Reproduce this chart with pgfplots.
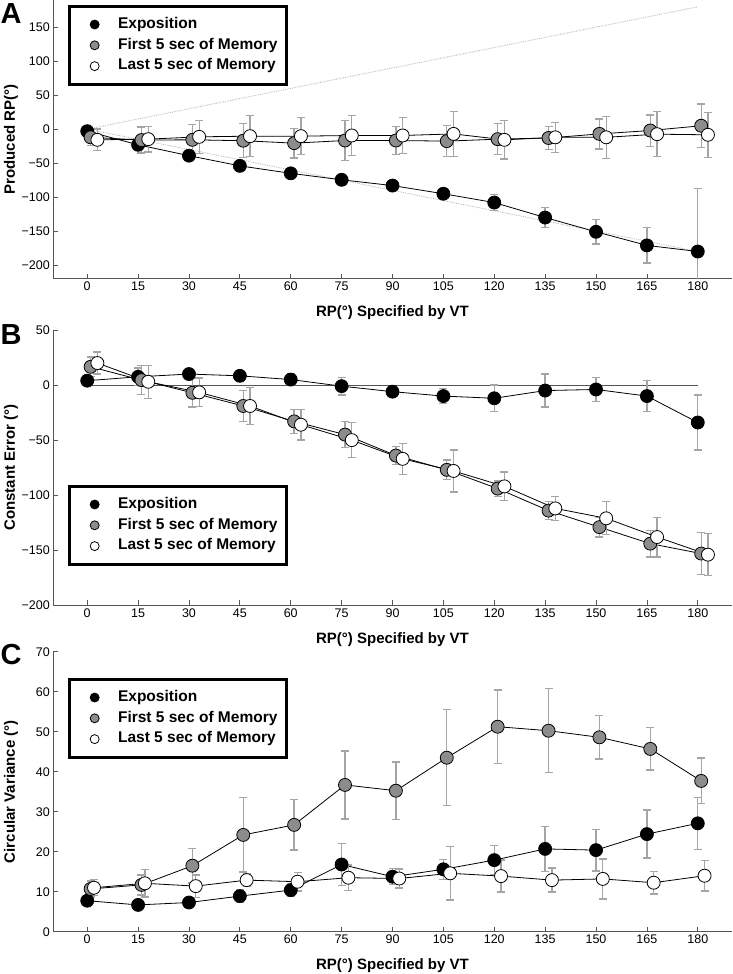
\documentclass[border=0pt]{standalone}
\usepackage{pgfplots}
\pgfplotsset{compat=1.18}
\usepackage{fontspec}
\setmainfont{Liberation Sans}

\definecolor{axgray}{RGB}{85,85,85}
\definecolor{ebgray}{RGB}{165,165,165}
\definecolor{mkgray}{RGB}{140,140,140}

\pgfplotsset{
  panel/.style={
    scale only axis, width=678.4pt,
    xmin=-10, xmax=190,
    axis x line*=bottom, axis y line*=left,
    axis line style={axgray, line width=1pt},
    tick align=inside, major tick length=5pt,
    tick style={axgray, line width=0.8pt},
    xtick={0,15,...,180},
    tick label style={font=\fontsize{12.5}{14}\selectfont},
    /pgf/number format/assume math mode=true,
    xlabel={RP(°) Specified by VT},
    label style={font=\bfseries\fontsize{15}{17}\selectfont},
    xlabel style={at={(axis description cs:0.5,0)}, yshift=-34pt, anchor=center},
    ylabel style={at={(axis description cs:-0.0624,0.5)}, anchor=center},
    legend cell align=left,
    legend style={draw=black, line width=2.5pt, fill=white, anchor=north west,
      font=\bfseries\fontsize{15.5}{18}\selectfont,
      inner xsep=6pt, inner ysep=9.5pt, row sep=3.3pt,
      nodes={inner xsep=3pt, inner ysep=1.5pt, text height=11pt, text depth=3.5pt}},
    legend image code/.code={%
      \path (-19pt,0pt) (20pt,0pt);
      \draw[##1, line width=0.8pt, mark size=4.5pt] plot coordinates {(0pt,0pt)};},
  },
  ser/.style={black, line width=0.8pt, mark=*, mark size=6.5pt,
    mark options={fill=#1, draw=black, line width=0.8pt},
    error bars/.cd, y dir=both, y explicit,
    error bar style={ebgray, line width=1.3pt},
    error mark options={rotate=90, ebgray, line width=1.3pt, mark size=4pt}},
}

\begin{document}
\begin{tikzpicture}
\useasboundingbox (0,0) rectangle (733pt,-974pt);

% Panel A
\begin{axis}[panel, at={(53.3pt,-278.7pt)}, anchor=south west,
  height=278.7pt, ymin=-220, ymax=190,
  ytick={-200,-150,...,150},
  yticklabels={−200,−150,−100,−50,0,50,100,150},
  ylabel={Produced RP(°)},
  legend style={at={(axis description cs:0.0217,0.982)}}]
\addplot[densely dotted, gray!60, line width=0.8pt, forget plot] coordinates {(0,0) (180,180)};
\addplot[densely dotted, gray!60, line width=0.8pt, forget plot] coordinates {(0,0) (180,-180)};
\addplot[ser=black] coordinates {
(0,-3) +- (0,3) (15,-23) +- (0,8) (30,-39) +- (0,5) (45,-54) +- (0,5)
(60,-65) +- (0,4) (75,-74.5) +- (0,8) (90,-83) +- (0,5) (105,-95) +- (0,8)
(120,-108) +- (0,12) (135,-130) +- (0,15) (150,-151) +- (0,18)
(165,-171) +- (0,26) (180,-180) +- (0,93)};
\addplot[ser=mkgray] coordinates {
(1,-12) +- (0,12) (16,-16) +- (0,19) (31,-15.7) +- (0,23) (46,-17) +- (0,25)
(61,-20.6) +- (0,22) (76,-16.7) +- (0,29) (91,-16.7) +- (0,21) (106,-17.6) +- (0,23)
(121,-14.7) +- (0,23) (136,-13) +- (0,17) (151,-7) +- (0,22)
(166,-2) +- (0,23) (181,5) +- (0,32)};
\addplot[ser=white] coordinates {
(3,-15.7) +- (0,16) (18,-14.7) +- (0,19) (33,-11.3) +- (0,24) (48,-10.3) +- (0,30)
(63,-10.3) +- (0,27) (78,-9.3) +- (0,29) (93,-9.3) +- (0,26) (108,-7) +- (0,33)
(123,-15.7) +- (0,28) (138,-12) +- (0,22) (153,-12) +- (0,31)
(168,-7.4) +- (0,33) (183,-8.3) +- (0,33)};
\legend{Exposition, First 5 sec of Memory, Last 5 sec of Memory}
\end{axis}

% Panel B
\begin{axis}[panel, at={(53.3pt,-605.3pt)}, anchor=south west,
  height=275.3pt, ymin=-200, ymax=50,
  ytick={-200,-150,...,50},
  yticklabels={−200,−150,−100,−50,0,50},
  ylabel={Constant Error (°)},
  legend style={at={(axis description cs:0.0217,0.437)}}]
\addplot[axgray, line width=1pt, forget plot] coordinates {(0,0) (180,0)};
\addplot[ser=black] coordinates {
(0,4) +- (0,2) (15,7.5) +- (0,8) (30,10) +- (0,4) (45,8.4) +- (0,5)
(60,5) +- (0,5) (75,-1) +- (0,8) (90,-6) +- (0,3) (105,-10) +- (0,7)
(120,-12) +- (0,12) (135,-5) +- (0,15) (150,-4) +- (0,11)
(165,-10) +- (0,14) (180,-34) +- (0,25)};
\addplot[ser=mkgray] coordinates {
(1,16.6) +- (0,9) (16,4.5) +- (0,13) (31,-7) +- (0,13) (46,-19) +- (0,14)
(61,-33) +- (0,11) (76,-45) +- (0,12) (91,-64) +- (0,8) (106,-77) +- (0,9)
(121,-94) +- (0,7) (136,-114) +- (0,8) (151,-129) +- (0,9)
(166,-144) +- (0,12) (181,-153) +- (0,19)};
\addplot[ser=white] coordinates {
(3,20) +- (0,10) (18,3) +- (0,15) (33,-6.6) +- (0,13) (48,-19) +- (0,17)
(63,-36) +- (0,14) (78,-50) +- (0,16) (93,-67) +- (0,14) (108,-78) +- (0,19)
(123,-92) +- (0,13) (138,-112) +- (0,11) (153,-121) +- (0,15)
(168,-138) +- (0,18) (183,-154) +- (0,19)};
\legend{Exposition, First 5 sec of Memory, Last 5 sec of Memory}
\end{axis}

% Panel C
\begin{axis}[panel, at={(53.3pt,-931.7pt)}, anchor=south west,
  height=280pt, ymin=0, ymax=70,
  ytick={0,10,...,70},
  ylabel={Circular Variance (°)},
  legend style={at={(axis description cs:0.0217,0.906)}}]
\addplot[ser=black] coordinates {
(0,7.75) +- (0,1) (15,6.7) +- (0,1) (30,7.3) +- (0,1) (45,8.9) +- (0,1.5)
(60,10.4) +- (0,1.5) (75,16.8) +- (0,5.3) (90,13.75) +- (0,2) (105,15.6) +- (0,2.5)
(120,17.9) +- (0,3.7) (135,20.7) +- (0,5.6) (150,20.4) +- (0,5.2)
(165,24.4) +- (0,6) (180,27.1) +- (0,6.5)};
\addplot[ser=mkgray] coordinates {
(1,10.7) +- (0,2) (16,11.7) +- (0,2.5) (31,16.5) +- (0,4.3) (46,24.2) +- (0,9.3)
(61,26.7) +- (0,6.3) (76,36.7) +- (0,8.5) (91,35.25) +- (0,7.2) (106,43.5) +- (0,12)
(121,51.25) +- (0,9.2) (136,50.25) +- (0,10.5) (151,48.6) +- (0,5.4)
(166,45.7) +- (0,5.3) (181,37.7) +- (0,5.7)};
\addplot[ser=white] coordinates {
(2,11) +- (0,2) (17,12.1) +- (0,3.4) (32,11.4) +- (0,2.8) (47,12.9) +- (0,1.5)
(62,12.5) +- (0,2.3) (77,13.5) +- (0,3.2) (92,13.3) +- (0,2.4) (107,14.6) +- (0,6.7)
(122,13.9) +- (0,4) (137,12.9) +- (0,3) (152,13.2) +- (0,5)
(167,12.25) +- (0,2.8) (182,14) +- (0,3.8)};
\legend{Exposition, First 5 sec of Memory, Last 5 sec of Memory}
\end{axis}

\node[font=\bfseries\fontsize{29}{32}\selectfont, anchor=center] at (11pt,-14pt) {A};
\node[font=\bfseries\fontsize{29}{32}\selectfont, anchor=center] at (11pt,-335pt) {B};
\node[font=\bfseries\fontsize{29}{32}\selectfont, anchor=center] at (11pt,-655pt) {C};
\end{tikzpicture}
\end{document}
